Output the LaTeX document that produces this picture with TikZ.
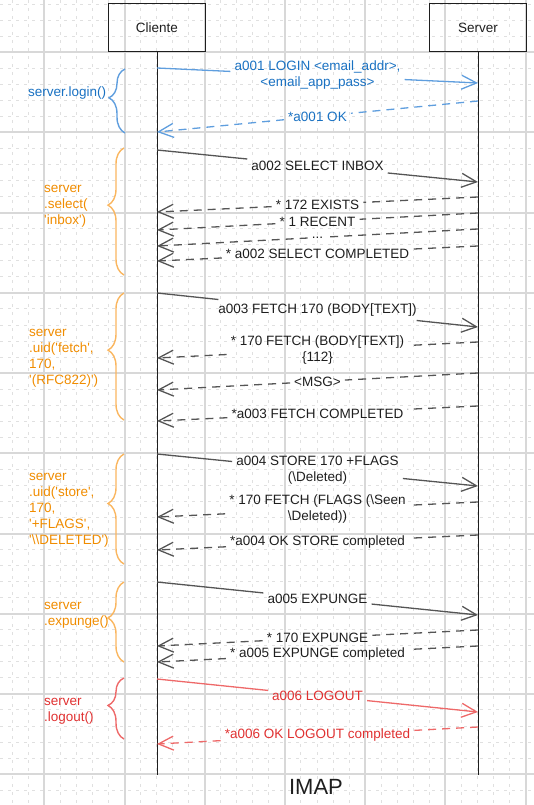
\documentclass[tikz,border=0pt]{standalone}
\usepackage{fontspec}
\newfontfamily\handfont{Liberation Sans}
\usetikzlibrary{arrows.meta,calc,decorations.pathreplacing}
\definecolor{inkdark}{RGB}{30,30,30}
\definecolor{linedark}{RGB}{85,85,85}
\definecolor{inkblue}{RGB}{25,113,194}
\definecolor{lineblue}{RGB}{95,158,222}
\definecolor{inkorange}{RGB}{240,140,0}
\definecolor{lineorange}{RGB}{250,182,95}
\definecolor{inkred}{RGB}{224,49,49}
\definecolor{linered}{RGB}{238,105,105}
\definecolor{gridmaj}{RGB}{216,216,216}
\definecolor{gridmin}{RGB}{224,224,224}

\begin{document}
\begin{tikzpicture}[x=1pt,y=-1pt,
                  txt/.style={font=\handfont\fontsize{13.5pt}{16pt}\selectfont},
                  actor/.style={txt,draw=inkdark,line width=1,minimum width=97,minimum height=48,text=inkdark},
                  lifeline/.style={line width=1,inkdark},
                  msg/.style={txt,align=center,inner sep=4pt},
                  code/.style={txt,align=left,anchor=west,inner sep=0pt},
                  call/.style={line width=1.3},
                  reply/.style={line width=1.3,dash pattern=on 8pt off 6pt},
                  head/.style={-{Straight Barb[length=15pt,width=14pt]}},
                  curly/.style={decorate,decoration={brace,amplitude=16pt,aspect=0.55},line width=1.4},
                  gridmajor/.style={line width=2,draw=gridmaj},
                  gridminor/.style={line width=1,draw=gridmin,dash pattern=on 3pt off 5pt}]
                  \useasboundingbox (0,0) rectangle (534,805);
                  % background grid
                  \foreach \gridx in {12.2,28.3,60.3,76.4,92.4,108.4,140.5,156.6,172.6,188.6,220.7,236.8,252.8,268.8,300.9,317.0,333.0,349.0,381.1,397.2,413.2,429.2,461.3,477.4,493.4,509.4}
                     \draw [gridminor] (\gridx,0) -- (\gridx,805);
                  \foreach \gridy in {4.2,20.2,36.3,68.3,84.4,100.4,116.4,148.5,164.6,180.6,196.6,228.7,244.8,260.8,276.8,308.9,325.0,341.0,357.0,389.1,405.2,421.2,437.2,469.3,485.4,501.4,517.4,549.5,565.6,581.6,597.6,629.7,645.8,661.8,677.8,709.9,726.0,742.0,758.0,790.1}
                     \draw [gridminor] (0,\gridy) -- (534,\gridy);
                  \path [gridmajor] (44.3,0) -- (44.3,805) (124.5,0) -- (124.5,805) (204.7,0) -- (204.7,805)
                        (284.9,0) -- (284.9,805) (365.1,0) -- (365.1,805) (445.3,0) -- (445.3,805) (525.5,0) -- (525.5,805);
                  \foreach \gridy in {52.3,132.5,212.7,292.9,373.1,453.3,533.5,613.7,693.9,774.1}
                     \draw [gridmajor] (0,\gridy) -- (534,\gridy);
                  % actors and lifelines
                  \node [actor] (cli) at (157,28) {Cliente};
                  \node [actor] (srv) at (478,28) {Server};
                  \coordinate (cliend) at (157,775);
                  \coordinate (srvend) at (478,775);
                  \draw [lifeline] (cli) -- (cliend);
                  \draw [lifeline] (srv) -- (srvend);
                  % login (blue)
                  \draw [curly,lineblue] (125,133) -- (125,69);
                  \node [code,text=inkblue] (lgn) at (28,93) {server.login()};
                  \coordinate (c1) at (157,68); \coordinate (s1) at (478,83);
                  \node [msg,text=inkblue] (m1) at ($(c1)!0.5!(s1)$) {a001 LOGIN <email\_addr>,\\<email\_app\_pass>};
                  \draw [call,lineblue] (c1) -- (m1);
                  \draw [call,lineblue,head] (m1) -- (s1);
                  \coordinate (s2) at (478,101); \coordinate (c2) at (157,132);
                  \node [msg,text=inkblue] (m2) at ($(s2)!0.5!(c2)$) {*a001 OK};
                  \draw [reply,lineblue] (s2) -- (m2);
                  \draw [reply,lineblue,head] (m2) -- (c2);
                  % select inbox
                  \draw [curly,lineorange] (124,275) -- (124,148);
                  \node [code,text=inkorange] (sel) at (44,206) {server\\.select(\\'inbox')};
                  \coordinate (c3) at (157,150); \coordinate (s3) at (478,182);
                  \node [msg,text=inkdark] (m3) at ($(c3)!0.5!(s3)$) {a002 SELECT INBOX};
                  \draw [call,linedark] (c3) -- (m3);
                  \draw [call,linedark,head] (m3) -- (s3);
                  \coordinate (s4) at (478,197); \coordinate (c4) at (157,212);
                  \node [msg,text=inkdark] (m4) at ($(s4)!0.5!(c4)$) {* 172 EXISTS};
                  \draw [reply,linedark] (s4) -- (m4);
                  \draw [reply,linedark,head] (m4) -- (c4);
                  \coordinate (s5) at (478,213); \coordinate (c5) at (157,230);
                  \node [msg,text=inkdark] (m5) at ($(s5)!0.5!(c5)$) {* 1 RECENT};
                  \draw [reply,linedark] (s5) -- (m5);
                  \draw [reply,linedark,head] (m5) -- (c5);
                  \coordinate (s6) at (478,229); \coordinate (c6) at (157,246);
                  \node [msg,text=inkdark] (m6) at ($(s6)!0.5!(c6)$) {...};
                  \draw [reply,linedark] (s6) -- (m6);
                  \draw [reply,linedark,head] (m6) -- (c6);
                  \coordinate (s7) at (478,246); \coordinate (c7) at (157,261);
                  \node [msg,text=inkdark] (m7) at ($(s7)!0.5!(c7)$) {* a002 SELECT COMPLETED};
                  \draw [reply,linedark] (s7) -- (m7);
                  \draw [reply,linedark,head] (m7) -- (c7);
                  % fetch
                  \draw [curly,lineorange] (124,420) -- (124,293);
                  \node [code,text=inkorange] (fet) at (29,358) {server\\.uid('fetch',\\170,\\'(RFC822)')};
                  \coordinate (c8) at (157,293); \coordinate (s8) at (478,327);
                  \node [msg,text=inkdark] (m8) at ($(c8)!0.5!(s8)$) {a003 FETCH 170 (BODY[TEXT])};
                  \draw [call,linedark] (c8) -- (m8);
                  \draw [call,linedark,head] (m8) -- (s8);
                  \coordinate (s9) at (478,342); \coordinate (c9) at (157,358);
                  \node [msg,text=inkdark] (m9) at ($(s9)!0.5!(c9)$) {* 170 FETCH (BODY[TEXT])\\\{112\}};
                  \draw [reply,linedark] (s9) -- (m9);
                  \draw [reply,linedark,head] (m9) -- (c9);
                  \coordinate (s10) at (478,373); \coordinate (c10) at (157,390);
                  \node [msg,text=inkdark] (m10) at ($(s10)!0.5!(c10)$) {<MSG>};
                  \draw [reply,linedark] (s10) -- (m10);
                  \draw [reply,linedark,head] (m10) -- (c10);
                  \coordinate (s11) at (478,406); \coordinate (c11) at (157,421);
                  \node [msg,text=inkdark] (m11) at ($(s11)!0.5!(c11)$) {*a003 FETCH COMPLETED};
                  \draw [reply,linedark] (s11) -- (m11);
                  \draw [reply,linedark,head] (m11) -- (c11);
                  % store flags
                  \draw [curly,lineorange] (124,564) -- (124,454);
                  \node [code,text=inkorange] (sto) at (29,510) {server\\.uid('store',\\170,\\'+FLAGS',\\'\textbackslash\textbackslash DELETED')};
                  \coordinate (c12) at (157,454); \coordinate (s12) at (478,486);
                  \node [msg,text=inkdark] (m12) at ($(c12)!0.5!(s12)$) {a004 STORE 170 +FLAGS\\(\textbackslash Deleted)};
                  \draw [call,linedark] (c12) -- (m12);
                  \draw [call,linedark,head] (m12) -- (s12);
                  \coordinate (s13) at (478,502); \coordinate (c13) at (157,517);
                  \node [msg,text=inkdark] (m13) at ($(s13)!0.5!(c13)$) {* 170 FETCH (FLAGS (\textbackslash Seen\\\textbackslash Deleted))};
                  \draw [reply,linedark] (s13) -- (m13);
                  \draw [reply,linedark,head] (m13) -- (c13);
                  \coordinate (s14) at (478,535); \coordinate (c14) at (157,550);
                  \node [msg,text=inkdark] (m14) at ($(s14)!0.5!(c14)$) {*a004 OK STORE completed};
                  \draw [reply,linedark] (s14) -- (m14);
                  \draw [reply,linedark,head] (m14) -- (c14);
                  % expunge
                  \draw [curly,lineorange] (124,662) -- (124,582);
                  \node [code,text=inkorange] (exp) at (44,615) {server\\.expunge()};
                  \coordinate (c15) at (157,582); \coordinate (s15) at (478,615);
                  \node [msg,text=inkdark] (m15) at ($(c15)!0.5!(s15)$) {a005 EXPUNGE};
                  \draw [call,linedark] (c15) -- (m15);
                  \draw [call,linedark,head] (m15) -- (s15);
                  \coordinate (s16) at (478,630); \coordinate (c16) at (157,646);
                  \node [msg,text=inkdark] (m16) at ($(s16)!0.5!(c16)$) {* 170 EXPUNGE};
                  \draw [reply,linedark] (s16) -- (m16);
                  \draw [reply,linedark,head] (m16) -- (c16);
                  \coordinate (s17) at (478,646); \coordinate (c17) at (157,662);
                  \node [msg,text=inkdark] (m17) at ($(s17)!0.5!(c17)$) {* a005 EXPUNGE completed};
                  \draw [reply,linedark] (s17) -- (m17);
                  \draw [reply,linedark,head] (m17) -- (c17);
                  % logout (red)
                  \draw [curly,linered] (124,739) -- (124,678);
                  \node [code,text=inkred] (lgo) at (44,711) {server\\.logout()};
                  \coordinate (c18) at (157,679); \coordinate (s18) at (478,712);
                  \node [msg,text=inkred] (m18) at ($(c18)!0.5!(s18)$) {a006 LOGOUT};
                  \draw [call,linered] (c18) -- (m18);
                  \draw [call,linered,head] (m18) -- (s18);
                  \coordinate (s19) at (478,727); \coordinate (c19) at (157,744);
                  \node [msg,text=inkred] (m19) at ($(s19)!0.5!(c19)$) {*a006 OK LOGOUT completed};
                  \draw [reply,linered] (s19) -- (m19);
                  \draw [reply,linered,head] (m19) -- (c19);
                  % title
                  \node [txt,font=\handfont\fontsize{22pt}{22pt}\selectfont,text=inkdark] (ttl) at (316,787) {IMAP};
\end{tikzpicture}
\end{document}
